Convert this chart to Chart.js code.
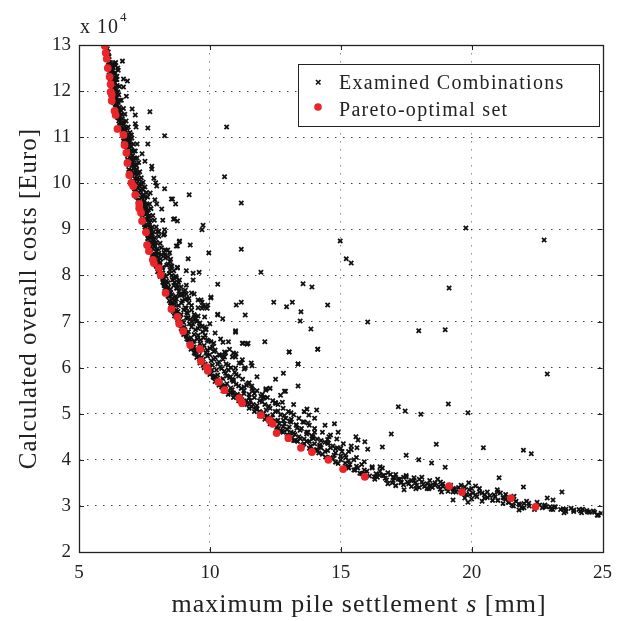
<!DOCTYPE html>
<html>
<head>
<meta charset="utf-8">
<script src="https://cdn.jsdelivr.net/npm/chart.js@4.4.0/dist/chart.umd.min.js"></script>
<style>
  html, body { margin: 0; padding: 0; background: #fff; }
  #wrap { width: 622px; height: 621px; }
</style>
</head>
<body>
<div id="wrap"><canvas id="chart" width="622" height="621"></canvas></div>
<script>
'use strict';
// axis ticks (y in units of 10^4 Euro)
const xTicks = [5, 10, 15, 20, 25];
const yTicks = [2, 3, 4, 5, 6, 7, 8, 9, 10, 11, 12, 13];

// red dots - pareto front [s (mm), cost (x10^4 Euro)]
const paretoPts = [
  [5.99,12.98],[6.02,12.83],[6.06,12.70],[6.10,12.50],[6.17,12.31],[6.21,12.15],[6.21,11.98],[6.25,11.92],
  [6.25,11.79],[6.36,11.57],[6.40,11.48],[6.47,11.18],[6.70,11.05],[6.74,10.83],[6.81,10.66],[6.85,10.44],
  [6.92,10.18],[7.00,10.01],[7.07,9.94],[7.15,9.75],[7.30,9.55],[7.30,9.46],[7.37,9.36],[7.41,9.18],
  [7.56,8.94],[7.60,8.66],[7.67,8.53],[7.82,8.34],[7.86,8.27],[8.05,8.16],[8.12,8.01],[8.31,7.62],
  [8.53,7.27],[8.76,7.10],[8.83,6.95],[8.98,6.79],[9.25,6.49],[9.62,6.40],[9.66,6.14],[9.88,6.01],
  [9.92,5.93],[10.33,5.69],[10.56,5.51],[11.12,5.34],[11.23,5.23],[11.95,4.97],[12.28,4.86],[12.40,4.78],
  [12.55,4.58],[13.00,4.47],[13.48,4.26],[13.90,4.17],[14.53,4.00],[15.09,3.80],[15.92,3.63],[19.14,3.43],
  [19.63,3.30],[21.50,3.17],[22.44,2.98]
];

// black crosses hugging the front
const bandNear = [
  [6.05,12.9],[6.08,12.7],[6.12,12.55],[6.15,12.35],[6.2,12.2],[6.25,12.05],[6.3,11.85],[6.38,11.65],
  [6.45,11.52],[6.52,11.35],[6.6,11.2],[6.75,11.0],[6.8,10.8],[6.88,10.62],[6.92,10.4],[6.98,10.2],
  [7.05,10.05],[7.12,9.88],[7.2,9.7],[7.3,9.6],[7.35,9.42],[7.42,9.3],[7.5,9.1],[7.56,8.98],
  [7.62,8.8],[7.68,8.62],[7.75,8.5],[7.85,8.38],[7.92,8.25],[8.08,8.1],[8.2,7.95],[8.28,7.72],
  [8.4,7.55],[8.58,7.35],[8.75,7.15],[8.85,6.98],[8.98,6.85],[9.08,6.72],[9.18,6.6],[9.3,6.48],
  [9.55,6.38],[9.68,6.22],[9.82,6.08],[9.95,6.02],[10.08,5.95],[10.2,5.82],[10.4,5.72],[10.6,5.6],
  [10.85,5.52],[11.05,5.42],[11.2,5.38],[11.4,5.28],[11.65,5.2],[11.8,5.1],[12.0,4.98],[12.18,4.92],
  [12.35,4.82],[12.45,4.78],[12.62,4.68],[12.8,4.6],[13.05,4.52],[13.25,4.42],[13.55,4.32],[13.8,4.25],
  [14.0,4.2],[14.3,4.12],[14.6,4.05],[14.9,3.92],[15.2,3.85],[15.5,3.78],[15.8,3.7],[16.1,3.65],
  [16.4,3.62],[16.7,3.6],[17.0,3.55],[17.3,3.5],[17.6,3.48],[17.9,3.45],[18.2,3.42],[18.5,3.4],
  [18.8,3.36],[19.1,3.32],[19.4,3.3],[19.8,3.25],[20.2,3.2],[20.6,3.18],[21.0,3.12],[21.4,3.08],
  [21.8,3.04],[22.2,3.0],[22.7,2.96],[23.1,2.92],[23.6,2.88],[24.2,2.85],[24.8,2.8]
];

const bandInner = [
  [6.1,12.78],[6.14,12.68],[6.18,12.58],[6.22,12.42],[6.27,12.38],[6.33,12.22],[6.22,12.12],[6.26,11.98],
  [6.32,11.75],[6.4,11.72],[6.42,11.6],[6.48,11.42],[6.55,11.25],[6.65,11.12],[6.7,10.92],[6.78,10.9],
  [6.82,10.72],[6.85,10.52],[6.95,10.48],[6.9,10.3],[7.0,10.28],[7.05,10.15],[7.1,9.98],[7.15,9.85],
  [7.22,9.78],[7.25,9.62],[7.35,9.52],[7.4,9.45],[7.45,9.35],[7.45,9.2],[7.52,9.05],[7.6,8.92],
  [7.65,8.88],[7.65,8.72],[7.72,8.6],[7.8,8.45],[7.85,8.3],[7.95,8.2],[8.0,8.08],[8.1,7.98],
  [8.2,7.85],[8.25,7.82],[8.35,7.65],[8.45,7.45],[8.5,7.35],[8.6,7.22],[8.65,7.12],[8.78,7.0],
  [8.9,6.85],[9.0,6.72],[9.12,6.62],[9.25,6.55],[9.28,6.4],[9.4,6.32],[9.5,6.22],[9.62,6.1],
  [9.78,6.0],[9.9,5.92],[10.0,5.85],[10.2,5.7],[10.35,5.62],[10.5,5.5],[10.7,5.42],[10.9,5.35],
  [11.1,5.28],[11.3,5.2],[11.5,5.12],[11.7,5.05],[11.9,4.95],[12.1,4.88],[12.3,4.78],[12.55,4.7],
  [12.75,4.62],[12.95,4.55],[13.15,4.48],[13.35,4.4],[13.6,4.35],[13.85,4.3],[14.1,4.22],[14.4,4.18],
  [14.75,4.1],[15.0,4.0],[15.35,3.9],[15.65,3.82],[16.0,3.75],[16.35,3.7],[16.65,3.66],[17.0,3.62],
  [17.25,3.58],[17.55,3.52],[17.85,3.5],[18.15,3.47],[18.45,3.44],[18.75,3.42],[19.05,3.38],[19.35,3.36],
  [19.7,3.32],[20.05,3.28],[20.5,3.24],[20.9,3.2],[21.2,3.18],[21.6,3.14],[22.1,3.1],[22.6,3.02],
  [23.0,2.98],[23.4,2.92],[23.9,2.88],[24.5,2.86]
];

const bandMid = [
  [6.08,12.92],[6.12,12.85],[6.15,12.75],[6.2,12.62],[6.3,12.58],[6.4,12.55],[6.48,12.5],[6.22,12.5],
  [6.3,12.45],[6.38,12.4],[6.18,12.4],[6.25,12.3],[6.35,12.3],[6.45,12.32],[6.28,12.2],[6.38,12.18],
  [6.3,12.1],[6.42,12.05],[6.3,12.0],[6.36,11.95],[6.48,11.98],[6.34,11.9],[6.43,11.85],[6.38,11.78],
  [6.5,11.75],[6.45,11.7],[6.55,11.65],[6.48,11.6],[6.6,11.58],[6.5,11.5],[6.58,11.45],[6.66,11.4],
  [6.55,11.38],[6.62,11.3],[6.72,11.28],[6.68,11.2],[6.78,11.15],[6.74,11.1],[6.85,11.05],[6.8,10.98],
  [6.9,10.95],[6.86,10.88],[6.96,10.85],[6.9,10.78],[7.0,10.72],[6.92,10.65],[7.05,10.6],[6.98,10.55],
  [7.1,10.5],[7.02,10.42],[7.15,10.4],[7.08,10.32],[7.2,10.3],[7.1,10.22],[7.22,10.18],[7.15,10.1],
  [7.3,10.08],[7.2,10.0],[7.35,9.98],[7.25,9.9],[7.4,9.88],[7.3,9.8],[7.45,9.75],[7.38,9.68],
  [7.5,9.62],[7.42,9.55],[7.55,9.5],[7.48,9.42],[7.6,9.4],[7.52,9.32],[7.65,9.28],[7.58,9.2],
  [7.7,9.15],[7.62,9.08],[7.75,9.02],[7.68,8.95],[7.8,8.9],[7.72,8.82],[7.85,8.78],[7.78,8.7],
  [7.9,8.65],[7.82,8.58],[7.95,8.52],[7.9,8.45],[8.02,8.4],[7.98,8.32],[8.1,8.28],[8.05,8.2],
  [8.18,8.15],[8.15,8.05],[8.25,8.0],[8.22,7.92],[8.35,7.88],[8.3,7.8],[8.42,7.75],[8.38,7.68],
  [8.5,7.62],[8.45,7.55],[8.58,7.5],[8.55,7.42],[8.65,7.38],[8.62,7.3],[8.72,7.25],[8.7,7.18],
  [8.82,7.12],[8.8,7.05],[8.92,7.0],[8.9,6.92],[9.02,6.88],[9.0,6.8],[9.12,6.75],[9.1,6.68],
  [9.22,6.62],[9.2,6.55],[9.35,6.5],[9.32,6.42],[9.45,6.38],[9.45,6.3],[9.58,6.25],[9.6,6.18],
  [9.72,6.12],[9.75,6.05],[9.88,6.0],[9.95,5.92],[10.05,5.88],[10.12,5.8],[10.25,5.75],[10.3,5.68],
  [10.45,5.62],[10.55,5.55],[10.7,5.5],[10.8,5.45],[10.95,5.4],[11.05,5.35],[11.2,5.3],[11.35,5.25],
  [11.5,5.2],[11.6,5.15],[11.75,5.1],[11.9,5.05],[12.05,5.0],[12.2,4.95],[12.35,4.9],[12.5,4.85],
  [12.65,4.78],[12.8,4.72],[12.95,4.66],[13.1,4.6],[13.25,4.55],[13.4,4.5],[13.6,4.45],[13.8,4.4],
  [14.0,4.35],[14.2,4.28]
];

const bandFar = [
  [6.4,12.62],[6.5,12.45],[6.45,12.25],[6.55,12.1],[6.52,11.92],[6.62,11.8],[6.7,11.62],[6.75,11.5],
  [6.8,11.35],[6.88,11.22],[6.95,11.1],[7.02,10.98],[7.08,10.85],[7.15,10.7],[7.22,10.55],[7.28,10.45],
  [7.32,10.25],[7.38,10.12],[7.45,10.02],[7.52,9.92],[7.58,9.8],[7.62,9.7],[7.7,9.55],[7.75,9.45],
  [7.82,9.3],[7.88,9.2],[7.95,9.05],[8.0,8.95],[8.05,8.85],[8.1,8.7],[8.15,8.6],[8.25,8.5],
  [8.3,8.38],[8.4,8.25],[8.48,8.12],[8.55,8.0],[8.65,7.85],[8.75,7.72],[8.85,7.58],[8.95,7.45],
  [9.05,7.3],[9.15,7.18],[9.25,7.05],[9.35,6.95],[9.45,6.82],[9.55,6.7],[9.65,6.6],[9.78,6.48],
  [9.9,6.38],[10.0,6.28],[10.15,6.18],[10.3,6.08],[10.45,5.98],[10.6,5.88],[10.75,5.78],[10.9,5.7],
  [11.1,5.6],[11.3,5.5],[11.5,5.42],[11.7,5.35],[11.9,5.28],[12.1,5.2],[12.3,5.12],[12.5,5.05],
  [12.7,4.98],[12.9,4.9],[13.1,4.82],[13.3,4.75],[13.5,4.68],[13.7,4.6],[13.9,4.52],[14.1,4.45],
  [14.4,4.38],[14.7,4.3],[15.0,4.25],[15.3,4.18],[15.2,4.05],[15.5,4.0],[15.8,3.9],[16.2,3.85],
  [16.5,3.75],[16.8,3.72],[17.1,3.68],[17.4,3.62],[17.7,3.55],[18.0,3.58],[18.3,3.48],[18.6,3.5],
  [18.9,3.42],[19.3,3.38],[19.6,3.45],[20.0,3.38],[20.4,3.28],[20.7,3.22],[21.1,3.28],[21.3,3.15],
  [21.7,3.1],[22.0,3.05],[22.5,3.08],[22.8,3.02],[23.2,2.98],[23.5,2.94],[23.8,2.95],[24.1,2.92],
  [24.4,2.9],[24.7,2.86],[24.95,2.84]
];

const bandOuter = [
  [8.3,8.55],[8.4,8.4],[8.5,8.35],[8.55,8.2],[8.62,8.1],[8.7,7.98],[8.8,7.85],[8.9,7.75],
  [9.0,7.65],[9.12,7.5],[9.2,7.4],[9.3,7.25],[9.4,7.15],[9.5,7.0],[9.6,6.9],[9.72,6.78],
  [9.82,6.7],[9.95,6.58],[10.1,6.45],[10.2,6.38],[10.35,6.28],[10.5,6.18],[10.62,6.08],[10.8,6.0],
  [10.95,5.9],[11.1,5.82],[11.25,5.75],[11.45,5.65],[11.6,5.6],[11.8,5.5],[12.0,5.42],[12.2,5.35],
  [12.4,5.28],[12.6,5.2],[12.8,5.12],[13.0,5.05],[13.2,4.98],[13.4,4.9],[13.6,4.82],[13.8,4.75],
  [14.0,4.68],[14.3,4.6],[14.55,4.5],[14.85,4.45],[15.1,4.35],[15.4,4.3],[9.3,7.62],[9.55,7.3],
  [9.8,7.1],[10.0,6.95],[10.2,6.75],[10.5,6.55],[10.75,6.4],[11.0,6.3],[11.35,6.0],[11.8,5.8],
  [12.3,5.55],[12.7,5.4],[13.2,5.2],[13.6,5.05],[14.0,4.9],[14.4,4.75],[14.9,4.6]
];

// irregular crosses filling the gaps in the band
const bandFill = [
  [6.13,12.62],[6.18,12.48],[6.28,12.52],[6.34,12.38],[6.26,12.26],[6.4,12.25],[6.34,12.12],[6.46,12.12],
  [6.32,12.04],[6.4,11.9],[6.46,11.78],[6.55,11.8],[6.44,11.66],[6.52,11.55],[6.62,11.5],[6.58,11.32],
  [6.68,11.32],[6.72,11.18],[6.82,11.2],[6.78,11.05],[6.9,11.02],[6.84,10.92],[6.95,10.9],[7.0,10.8],
  [6.95,10.68],[7.08,10.7],[7.02,10.52],[7.14,10.55],[7.08,10.4],[7.2,10.38],[7.15,10.26],[7.26,10.22],
  [7.22,10.08],[7.3,9.95],[7.4,9.98],[7.35,9.84],[7.45,9.86],[7.42,9.72],[7.52,9.7],[7.48,9.58],
  [7.6,9.55],[7.55,9.45],[7.65,9.42],[7.58,9.35],[7.7,9.3],[7.62,9.22],[7.75,9.2],[7.68,9.1],
  [7.8,9.05],[7.72,8.98],[7.85,8.95],[7.78,8.85],[7.9,8.82],[7.82,8.75],[7.95,8.72],[7.88,8.62],
  [8.0,8.58],[7.95,8.52],[8.05,8.48],[8.15,8.45],
  [7.95,8.42],[8.12,8.36],[8.28,8.44],[8.08,8.24],[8.2,8.18],[8.35,8.22],[8.48,8.3],[8.2,8.05],
  [8.32,7.98],[8.45,8.04],[8.6,7.95],[8.25,7.78],[8.4,7.84],[8.5,7.7],[8.62,7.78],[8.75,7.8],
  [8.42,7.62],[8.55,7.58],[8.7,7.55],[8.82,7.66],[8.95,7.58],[8.5,7.4],[8.68,7.45],[8.8,7.35],
  [8.92,7.4],[9.05,7.48],[9.2,7.5],[8.65,7.18],[8.78,7.22],[8.9,7.15],[9.0,7.25],[9.12,7.2],
  [9.3,7.35],[8.85,7.05],[9.0,6.98],[9.1,7.08],[9.22,6.95],[9.4,7.05],[9.55,7.12],[9.05,6.82],
  [9.18,6.78],[9.3,6.88],[9.4,6.72],[9.55,6.85],[9.7,6.9],[9.28,6.65],[9.4,6.58],[9.52,6.62],
  [9.62,6.52],[9.75,6.65],[9.9,6.6],[9.4,6.45],[9.6,6.35],[9.72,6.42],[9.85,6.32],[10.0,6.42],
  [10.15,6.35],[9.75,6.18],[9.9,6.25],[10.05,6.15],[10.2,6.22],[10.35,6.12],[10.5,6.25],[9.95,5.98],
  [10.1,6.05],[10.25,5.95],[10.4,6.02],[10.55,5.92],[10.7,6.05],[10.15,5.78],[10.3,5.84],[10.5,5.76],
  [10.65,5.82],[10.85,5.74],[11.0,5.85],[10.45,5.58],[10.65,5.65],[10.8,5.56],[11.0,5.64],[11.2,5.55],
  [11.4,5.62],[10.9,5.45],[11.1,5.38],[11.3,5.44],[11.5,5.35],[11.7,5.44],[11.95,5.38],[11.35,5.22],
  [11.55,5.28],[11.8,5.18],[12.0,5.26],[12.25,5.16],[12.5,5.24],[11.95,5.02],[12.15,5.08],[12.4,4.98],
  [12.6,5.06],[12.85,4.96],[13.1,5.02],[12.4,4.8],[12.6,4.86],[12.85,4.78],[13.05,4.84],[13.3,4.76],
  [13.55,4.82],[12.7,4.62],[12.95,4.66],[13.2,4.58],[13.45,4.64],[13.7,4.56],[14.0,4.6],[13.2,4.42],
  [13.45,4.46],[13.7,4.4],[13.95,4.46],[14.25,4.42],[14.5,4.44],[13.95,4.22],[14.25,4.26],[14.5,4.2],
  [14.8,4.24],[15.05,4.18],[15.4,4.22],[14.7,4.02],[15.0,4.08],[15.3,3.98],[15.6,4.05],[15.9,3.96],
  [15.3,3.82],[15.6,3.86],[15.9,3.78],[16.2,3.82],[16.5,3.85],[16.3,3.58],[16.6,3.66],[16.9,3.68],
  [17.2,3.58],[17.5,3.66],[17.8,3.55],[18.1,3.62],[18.4,3.55],[18.7,3.58],[16.8,3.48],[17.1,3.44],
  [17.4,3.46],[17.7,3.42],[18.0,3.4],[18.3,3.38],[18.6,3.45],[18.9,3.48],[19.2,3.45],[19.5,3.4],
  [19.9,3.35],[20.3,3.38],[20.6,3.3],[21.0,3.3],[21.3,3.25],[20.0,3.15],[20.4,3.1],[20.8,3.12],
  [21.2,3.05],[21.6,3.0],[22.0,2.96],[22.4,2.92]
];

// scattered crosses right of the band
const scatterPts = [
  [6.66,12.65],[6.36,12.6],[6.70,12.26],[6.85,12.22],[6.70,12.09],[6.81,11.89],[7.03,11.61],[7.15,11.48],
  [7.71,11.55],[7.15,11.29],[7.18,11.22],[7.63,11.20],[7.0,11.05],[7.63,10.85],[7.22,10.85],[7.41,10.64],
  [7.52,10.48],[7.78,10.37],[7.78,10.31],[7.86,10.11],[7.93,10.01],[7.97,9.94],[8.27,9.88],[8.53,9.66],
  [9.21,9.75],[8.69,9.55],[8.57,9.66],[8.61,9.22],[8.76,9.18],[8.05,8.96],[8.27,8.99],[8.27,8.90],
  [8.83,8.73],[8.76,8.64],[9.25,8.66],[9.17,8.36],[8.76,8.16],[9.10,8.10],[9.36,8.05],[9.59,8.07],
  [9.36,7.90],[10.30,7.81],[10.04,7.53],[8.57,7.90],[8.72,7.73],[9.06,7.68],[7.72,9.79],[8.16,9.44],
  [7.90,9.64],[7.97,9.55],[8.65,9.23],[8.20,9.20],[8.23,8.88],[8.84,8.75],[8.72,8.64],[8.39,8.55],
  [8.46,8.49],[8.53,8.21],[8.76,8.18],[8.72,7.95],[8.84,7.90],[9.10,7.79],[8.91,7.57],[9.10,7.60],
  [9.40,7.60],[9.55,7.47],[9.74,7.34],[9.89,7.29],[9.10,7.29],[8.72,7.49],[10.30,7.14],[10.49,7.06],
  [9.47,7.06],[9.62,6.97],[9.81,6.88],[9.32,7.01],[9.70,7.42],[9.85,7.32],[11.01,7.36],[11.20,7.42],
  [8.98,7.60],[9.66,7.47],[9.92,7.36],[9.70,7.29],[9.17,7.08],[9.43,7.08],[9.85,6.82],[10.04,6.56],
  [9.85,6.84],[10.15,6.53],[10.41,6.62],[10.71,6.56],[10.98,6.77],[11.27,6.53],[11.46,6.53],[12.10,6.56],
  [10.38,6.27],[10.60,6.32],[10.86,6.23],[11.12,6.10],[11.24,6.17],[11.58,6.10],[10.98,5.99],[11.31,5.97],
  [10.71,5.95],[10.79,5.80],[11.50,5.67],[11.65,5.51],[11.31,5.58],[12.14,5.51],[12.06,5.34],[12.51,5.75],
  [12.81,5.88],[13.03,6.34],[13.37,6.08],[14.12,6.40],[10.56,6.34],[10.90,6.32],[11.20,6.10],[10.56,6.23],
  [11.61,6.04],[10.90,5.73],[11.61,5.54],[12.06,5.36],[12.89,5.49],[13.37,5.60],[12.51,5.23],[12.77,5.25],
  [13.71,5.10],[14.08,5.08],[13.78,4.97],[14.76,4.78],[12.81,4.86],[13.11,4.88],[13.03,4.71],[13.33,4.69],
  [13.75,4.60],[13.93,4.50],[14.20,4.32],[14.50,4.36],[14.61,4.26],[14.87,4.26],[15.17,4.10],[13.75,4.80],
  [14.16,4.15],[14.42,4.06],[14.80,3.95],[15.28,3.84],[15.54,3.78],[15.73,3.71],[16.29,3.63],[16.48,3.67],
  [16.75,3.56],[16.97,3.50],[17.31,3.52],[17.50,3.63],[17.80,3.61],[18.10,3.52],[18.43,3.45],[17.87,3.37],
  [18.36,3.37],[18.81,3.52],[18.85,3.30],[19.29,3.30],[19.56,3.35],[19.74,3.17],[19.86,3.08],[20.15,3.24],
  [20.49,3.17],[20.86,3.24],[20.98,3.35],[21.24,3.17],[21.43,3.08],[21.62,3.21],[21.84,3.02],[21.92,2.95],
  [22.18,3.06],[22.78,2.99],[23.15,2.97],[23.60,2.93],[23.90,2.91],[24.16,2.89],[24.43,2.87],[24.65,2.89],
  [24.84,2.80],[24.24,2.93],[23.53,2.85],[23.04,2.93],[22.85,2.98],[21.54,3.02],[21.81,2.91],[20.30,3.30],
  [19.74,3.41],[19.93,3.24],[19.29,3.13],[17.42,3.35],[17.05,3.61],[15.92,3.71],[14.80,4.15],[15.17,3.93],
  [14.61,4.54],[16.93,4.56],[15.58,4.50],[15.66,4.43],[15.92,4.39],[15.62,4.26],[16.03,4.23],[16.59,4.28],
  [14.20,4.30],[14.53,4.36],[18.65,4.34],[20.45,4.26],[21.98,4.21],[22.28,4.13],[17.50,4.10],[17.98,4.00],
  [18.47,3.93],[18.99,3.84],[16.59,3.82],[21.05,3.61],[21.98,3.41],[23.45,3.30],[22.89,3.17],[23.11,3.13],
  [19.89,3.50],[20.15,3.43]
];

// isolated crosses far from the front
const outlierPts = [
  [8.27,11.03],[10.64,11.22],[10.56,10.14],[11.20,9.57],[11.20,8.57],[9.96,8.49],[9.74,9.09],[9.70,8.99],
  [11.95,8.07],[13.56,7.82],[13.90,7.75],[10.04,7.51],[12.44,7.42],[13.15,7.42],[12.93,7.32],[13.48,7.21],
  [14.50,7.36],[10.30,7.16],[11.35,7.14],[13.45,7.01],[13.86,6.84],[10.98,6.80],[16.03,6.99],[17.98,6.80],
  [18.99,6.82],[19.78,9.03],[14.98,8.75],[15.21,8.36],[15.40,8.27],[19.14,7.73],[22.77,8.77],[22.89,5.86],
  [11.24,6.53],[11.42,6.51],[13.03,6.34],[14.12,6.40],[10.98,6.23],[13.37,6.08],[12.14,5.54],[12.51,5.23],
  [17.20,5.15],[17.46,5.06],[18.06,4.99],[19.11,5.21],[19.86,5.02],[12.85,5.49]
];

const blackPts = bandNear.concat(bandInner, bandMid, bandFar, bandOuter, bandFill, scatterPts, outlierPts);
const toXY = (arr) => arr.map((p) => ({x: p[0], y: p[1]}));

const FONT = '"Liberation Serif", "DejaVu Serif", serif';

// frame, inward ticks, axis titles, exponent and legend
const decorations = {
  id: 'decorations',
  afterDraw(chart) {
    const {ctx, chartArea: a, scales} = chart;
    ctx.save();
    ctx.strokeStyle = '#222';
    ctx.lineWidth = 1;
    ctx.beginPath();
    xTicks.forEach((v) => {
      const px = Math.round(scales.x.getPixelForValue(v)) + 0.5;
      ctx.moveTo(px, a.bottom); ctx.lineTo(px, a.bottom - 5);
      ctx.moveTo(px, a.top); ctx.lineTo(px, a.top + 5);
    });
    yTicks.forEach((v) => {
      const py = Math.round(scales.y.getPixelForValue(v)) + 0.5;
      ctx.moveTo(a.left, py); ctx.lineTo(a.left + 5, py);
      ctx.moveTo(a.right, py); ctx.lineTo(a.right - 5, py);
    });
    ctx.stroke();
    ctx.lineWidth = 1.3;
    ctx.strokeRect(Math.round(a.left) + 0.5, Math.round(a.top) + 0.5,
      Math.round(a.right - a.left), Math.round(a.bottom - a.top));

    ctx.fillStyle = '#222';
    ctx.textBaseline = 'alphabetic';
    ctx.textAlign = 'left';
    // exponent
    ctx.font = '20px ' + FONT;
    ctx.letterSpacing = '1px';
    ctx.fillText('x 10', 80, 33);
    const wExp = ctx.measureText('x 10').width;
    ctx.font = '13px ' + FONT;
    ctx.fillText('4', 80 + wExp + 1, 21);

    // x title with italic s
    const partA = 'maximum pile settlement ';
    const partB = 's';
    const partC = ' [mm]';
    const big = '26px ' + FONT;
    const bigIt = 'italic 26px ' + FONT;
    ctx.font = big;
    const wA = ctx.measureText(partA).width;
    const wC = ctx.measureText(partC).width;
    ctx.font = bigIt;
    const wB = ctx.measureText(partB).width;
    const x0 = 359 - (wA + wB + wC) / 2;
    const yT = 612;
    ctx.font = big;
    ctx.fillText(partA, x0, yT);
    ctx.font = bigIt;
    ctx.fillText(partB, x0 + wA, yT);
    ctx.font = big;
    ctx.fillText(partC, x0 + wA + wB, yT);

    // y title
    ctx.save();
    ctx.font = '25px ' + FONT;
    ctx.translate(36, (a.top + a.bottom) / 2);
    ctx.rotate(-Math.PI / 2);
    ctx.textAlign = 'center';
    ctx.fillText('Calculated overall costs [Euro]', 0, 0);
    ctx.restore();

    // legend
    const lx = 298, ly = 64, lw = 301, lh = 62;
    ctx.fillStyle = '#fff';
    ctx.fillRect(lx, ly, lw, lh);
    ctx.lineWidth = 1;
    ctx.strokeStyle = '#222';
    ctx.strokeRect(lx + 0.5, ly + 0.5, lw, lh);
    ctx.strokeStyle = '#111';
    ctx.lineWidth = 1.6;
    ctx.beginPath();
    ctx.moveTo(316, 80); ctx.lineTo(320.5, 84.5);
    ctx.moveTo(320.5, 80); ctx.lineTo(316, 84.5);
    ctx.stroke();
    ctx.fillStyle = '#e8262a';
    ctx.beginPath();
    ctx.arc(318, 107, 3.8, 0, Math.PI * 2);
    ctx.fill();
    ctx.fillStyle = '#222';
    ctx.font = '20px ' + FONT;
    ctx.letterSpacing = '1.3px';
    ctx.fillText('Examined Combinations', 339, 89);
    ctx.fillText('Pareto-optimal set', 339, 116);
    ctx.restore();
  },
};

const ctx = document.getElementById('chart');
const chart = new Chart(ctx, {
  type: 'scatter',
  data: {
    datasets: [
      {
        label: 'Pareto-optimal set',
        data: toXY(paretoPts),
        pointStyle: 'circle',
        pointRadius: 3.9,
        backgroundColor: '#e8262a',
        borderWidth: 0,
        order: 0,
      },
      {
        label: 'Examined Combinations',
        data: toXY(blackPts),
        pointStyle: 'crossRot',
        pointRadius: 3,
        borderColor: '#111',
        borderWidth: 1.8,
        order: 1,
      },
    ],
  },
  options: {
    responsive: false,
    animation: false,
    layout: {padding: {top: 45, right: 10, left: 0, bottom: 0}},
    scales: {
      x: {
        type: 'linear',
        min: 5,
        max: 25,
        afterFit: (scale) => { scale.height = 69; },
        afterBuildTicks: (scale) => { scale.ticks = xTicks.map((v) => ({value: v})); },
        border: {display: false, dash: [1.5, 6.5]},
        grid: {
          color: 'rgba(0,0,0,0.45)',
          drawTicks: false,
          lineWidth: (c) => (c.tick && (c.tick.value === 5 || c.tick.value === 25) ? 0 : 1),
        },
        ticks: {
          padding: 10,
          color: '#222',
          font: {family: FONT, size: 19},
          maxRotation: 0,
        },
      },
      y: {
        type: 'linear',
        min: 2,
        max: 13,
        afterFit: (scale) => { scale.width = 79; },
        afterBuildTicks: (scale) => { scale.ticks = yTicks.map((v) => ({value: v})); },
        border: {display: false, dash: [1.5, 6.5]},
        grid: {
          color: 'rgba(0,0,0,0.75)',
          drawTicks: false,
          lineWidth: (c) => (c.tick && (c.tick.value === 2 || c.tick.value === 13) ? 0 : 1),
        },
        ticks: {
          padding: 8,
          color: '#222',
          font: {family: FONT, size: 19},
        },
      },
    },
    plugins: {
      legend: {display: false},
      tooltip: {enabled: false},
    },
  },
  plugins: [decorations],
});
</script>
</body>
</html>
